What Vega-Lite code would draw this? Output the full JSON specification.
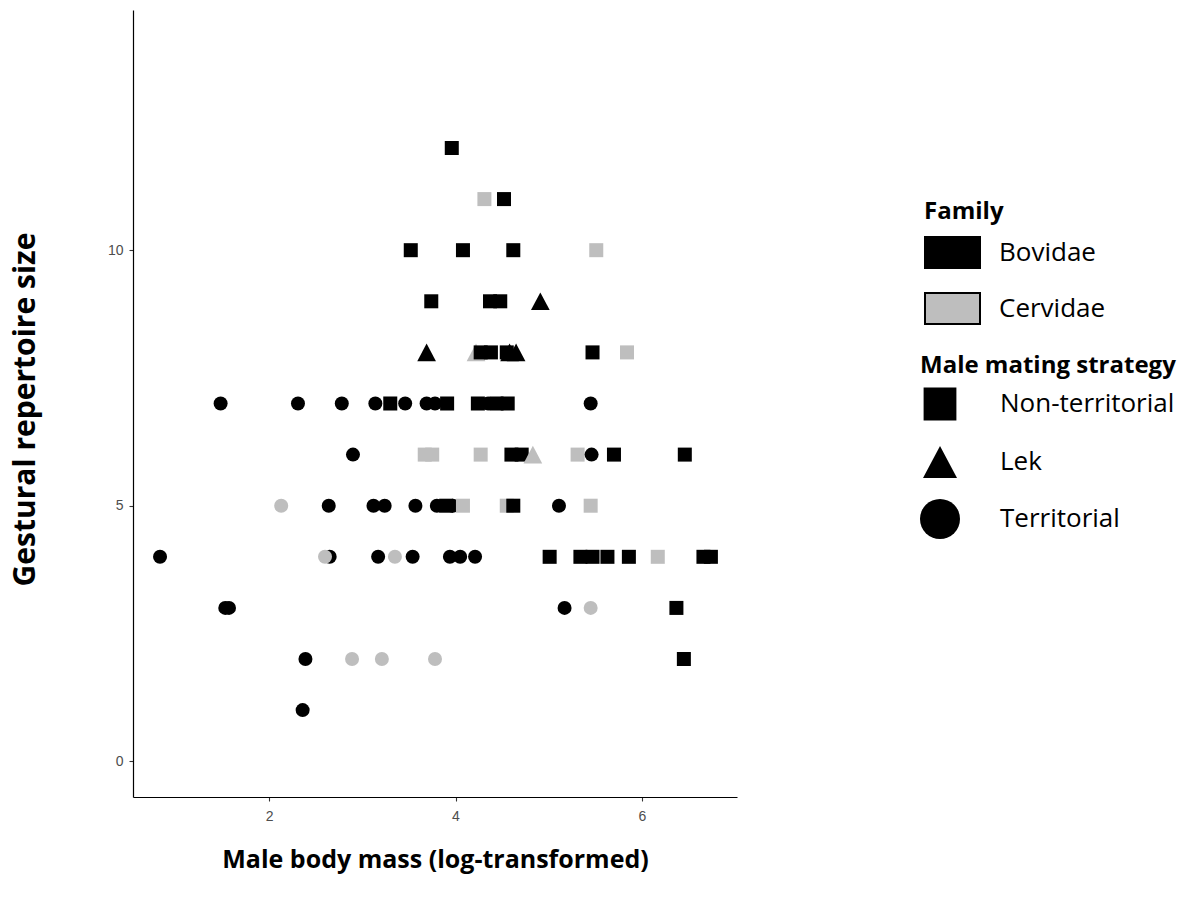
{
  "$schema": "https://vega.github.io/schema/vega-lite/v6.json",
  "autosize": {"type": "none"},
  "padding": {"left": 133, "top": 10, "right": 461, "bottom": 106},
  "width": 604,
  "height": 787,
  "background": "white",
  "config": {
    "view": {"stroke": null},
    "axis": {
      "grid": false,
      "domainColor": "#000000",
      "domainWidth": 1.2,
      "tickColor": "#333333",
      "tickSize": 4,
      "tickWidth": 1.1,
      "labelFont": "Liberation Sans",
      "labelFontSize": 14,
      "labelColor": "#4d4d4d",
      "titleFont": "Open Sans",
      "titleFontWeight": "bold",
      "titleColor": "#000000"
    },
    "legend": {
      "titleFont": "Open Sans",
      "titleFontSize": 24,
      "titleFontWeight": "bold",
      "titleColor": "#000000",
      "titleLimit": 500,
      "labelLimit": 500,
      "labelFont": "Open Sans",
      "labelFontSize": 26,
      "labelColor": "#000000",
      "padding": 0
    }
  },
  "data": {
    "values": [
      {"mass": 3.96, "gestures": 12, "family": "Bovidae", "strategy": "Non-territorial"},
      {"mass": 4.31, "gestures": 11, "family": "Cervidae", "strategy": "Non-territorial"},
      {"mass": 4.52, "gestures": 11, "family": "Bovidae", "strategy": "Non-territorial"},
      {"mass": 3.52, "gestures": 10, "family": "Bovidae", "strategy": "Non-territorial"},
      {"mass": 4.08, "gestures": 10, "family": "Bovidae", "strategy": "Non-territorial"},
      {"mass": 4.62, "gestures": 10, "family": "Bovidae", "strategy": "Non-territorial"},
      {"mass": 5.51, "gestures": 10, "family": "Cervidae", "strategy": "Non-territorial"},
      {"mass": 3.74, "gestures": 9, "family": "Bovidae", "strategy": "Non-territorial"},
      {"mass": 4.37, "gestures": 9, "family": "Bovidae", "strategy": "Non-territorial"},
      {"mass": 4.48, "gestures": 9, "family": "Bovidae", "strategy": "Non-territorial"},
      {"mass": 4.91, "gestures": 9, "family": "Bovidae", "strategy": "Lek"},
      {"mass": 3.69, "gestures": 8, "family": "Bovidae", "strategy": "Lek"},
      {"mass": 4.22, "gestures": 8, "family": "Cervidae", "strategy": "Lek"},
      {"mass": 4.27, "gestures": 8, "family": "Bovidae", "strategy": "Non-territorial"},
      {"mass": 4.38, "gestures": 8, "family": "Bovidae", "strategy": "Non-territorial"},
      {"mass": 4.55, "gestures": 8, "family": "Bovidae", "strategy": "Non-territorial"},
      {"mass": 4.58, "gestures": 8, "family": "Bovidae", "strategy": "Lek"},
      {"mass": 4.65, "gestures": 8, "family": "Bovidae", "strategy": "Lek"},
      {"mass": 5.47, "gestures": 8, "family": "Bovidae", "strategy": "Non-territorial"},
      {"mass": 5.84, "gestures": 8, "family": "Cervidae", "strategy": "Non-territorial"},
      {"mass": 1.48, "gestures": 7, "family": "Bovidae", "strategy": "Territorial"},
      {"mass": 2.31, "gestures": 7, "family": "Bovidae", "strategy": "Territorial"},
      {"mass": 2.78, "gestures": 7, "family": "Bovidae", "strategy": "Territorial"},
      {"mass": 3.14, "gestures": 7, "family": "Bovidae", "strategy": "Territorial"},
      {"mass": 3.30, "gestures": 7, "family": "Bovidae", "strategy": "Non-territorial"},
      {"mass": 3.46, "gestures": 7, "family": "Bovidae", "strategy": "Territorial"},
      {"mass": 3.69, "gestures": 7, "family": "Bovidae", "strategy": "Territorial"},
      {"mass": 3.78, "gestures": 7, "family": "Bovidae", "strategy": "Territorial"},
      {"mass": 3.91, "gestures": 7, "family": "Bovidae", "strategy": "Non-territorial"},
      {"mass": 4.24, "gestures": 7, "family": "Bovidae", "strategy": "Non-territorial"},
      {"mass": 4.35, "gestures": 7, "family": "Bovidae", "strategy": "Territorial"},
      {"mass": 4.44, "gestures": 7, "family": "Bovidae", "strategy": "Non-territorial"},
      {"mass": 4.56, "gestures": 7, "family": "Bovidae", "strategy": "Non-territorial"},
      {"mass": 5.45, "gestures": 7, "family": "Bovidae", "strategy": "Territorial"},
      {"mass": 2.90, "gestures": 6, "family": "Bovidae", "strategy": "Territorial"},
      {"mass": 3.67, "gestures": 6, "family": "Cervidae", "strategy": "Non-territorial"},
      {"mass": 3.75, "gestures": 6, "family": "Cervidae", "strategy": "Non-territorial"},
      {"mass": 4.27, "gestures": 6, "family": "Cervidae", "strategy": "Non-territorial"},
      {"mass": 4.60, "gestures": 6, "family": "Bovidae", "strategy": "Non-territorial"},
      {"mass": 4.71, "gestures": 6, "family": "Bovidae", "strategy": "Non-territorial"},
      {"mass": 4.83, "gestures": 6, "family": "Cervidae", "strategy": "Lek"},
      {"mass": 5.31, "gestures": 6, "family": "Cervidae", "strategy": "Non-territorial"},
      {"mass": 5.46, "gestures": 6, "family": "Bovidae", "strategy": "Territorial"},
      {"mass": 5.70, "gestures": 6, "family": "Bovidae", "strategy": "Non-territorial"},
      {"mass": 6.46, "gestures": 6, "family": "Bovidae", "strategy": "Non-territorial"},
      {"mass": 2.13, "gestures": 5, "family": "Cervidae", "strategy": "Territorial"},
      {"mass": 2.64, "gestures": 5, "family": "Bovidae", "strategy": "Territorial"},
      {"mass": 3.12, "gestures": 5, "family": "Bovidae", "strategy": "Territorial"},
      {"mass": 3.24, "gestures": 5, "family": "Bovidae", "strategy": "Territorial"},
      {"mass": 3.57, "gestures": 5, "family": "Bovidae", "strategy": "Territorial"},
      {"mass": 3.80, "gestures": 5, "family": "Bovidae", "strategy": "Territorial"},
      {"mass": 3.90, "gestures": 5, "family": "Bovidae", "strategy": "Non-territorial"},
      {"mass": 3.97, "gestures": 5, "family": "Bovidae", "strategy": "Territorial"},
      {"mass": 4.08, "gestures": 5, "family": "Cervidae", "strategy": "Non-territorial"},
      {"mass": 4.55, "gestures": 5, "family": "Cervidae", "strategy": "Non-territorial"},
      {"mass": 4.62, "gestures": 5, "family": "Bovidae", "strategy": "Non-territorial"},
      {"mass": 5.11, "gestures": 5, "family": "Bovidae", "strategy": "Territorial"},
      {"mass": 5.45, "gestures": 5, "family": "Cervidae", "strategy": "Non-territorial"},
      {"mass": 0.83, "gestures": 4, "family": "Bovidae", "strategy": "Territorial"},
      {"mass": 2.65, "gestures": 4, "family": "Bovidae", "strategy": "Territorial"},
      {"mass": 2.60, "gestures": 4, "family": "Cervidae", "strategy": "Territorial"},
      {"mass": 3.17, "gestures": 4, "family": "Bovidae", "strategy": "Territorial"},
      {"mass": 3.35, "gestures": 4, "family": "Cervidae", "strategy": "Territorial"},
      {"mass": 3.54, "gestures": 4, "family": "Bovidae", "strategy": "Territorial"},
      {"mass": 3.94, "gestures": 4, "family": "Bovidae", "strategy": "Territorial"},
      {"mass": 4.05, "gestures": 4, "family": "Bovidae", "strategy": "Territorial"},
      {"mass": 4.21, "gestures": 4, "family": "Bovidae", "strategy": "Territorial"},
      {"mass": 5.01, "gestures": 4, "family": "Bovidae", "strategy": "Non-territorial"},
      {"mass": 5.34, "gestures": 4, "family": "Bovidae", "strategy": "Non-territorial"},
      {"mass": 5.47, "gestures": 4, "family": "Bovidae", "strategy": "Non-territorial"},
      {"mass": 5.63, "gestures": 4, "family": "Bovidae", "strategy": "Non-territorial"},
      {"mass": 5.86, "gestures": 4, "family": "Bovidae", "strategy": "Non-territorial"},
      {"mass": 6.17, "gestures": 4, "family": "Cervidae", "strategy": "Non-territorial"},
      {"mass": 6.66, "gestures": 4, "family": "Bovidae", "strategy": "Non-territorial"},
      {"mass": 6.74, "gestures": 4, "family": "Bovidae", "strategy": "Non-territorial"},
      {"mass": 1.53, "gestures": 3, "family": "Bovidae", "strategy": "Territorial"},
      {"mass": 1.57, "gestures": 3, "family": "Bovidae", "strategy": "Territorial"},
      {"mass": 5.17, "gestures": 3, "family": "Bovidae", "strategy": "Territorial"},
      {"mass": 5.45, "gestures": 3, "family": "Cervidae", "strategy": "Territorial"},
      {"mass": 6.37, "gestures": 3, "family": "Bovidae", "strategy": "Non-territorial"},
      {"mass": 2.39, "gestures": 2, "family": "Bovidae", "strategy": "Territorial"},
      {"mass": 2.89, "gestures": 2, "family": "Cervidae", "strategy": "Territorial"},
      {"mass": 3.21, "gestures": 2, "family": "Cervidae", "strategy": "Territorial"},
      {"mass": 3.78, "gestures": 2, "family": "Cervidae", "strategy": "Territorial"},
      {"mass": 6.45, "gestures": 2, "family": "Bovidae", "strategy": "Non-territorial"},
      {"mass": 2.36, "gestures": 1, "family": "Bovidae", "strategy": "Territorial"}
    ]
  },
  "mark": {"type": "point", "filled": true, "opacity": 1, "strokeWidth": 0},
  "encoding": {
    "x": {
      "field": "mass", "type": "quantitative",
      "scale": {"domain": [0.54, 7.02], "nice": false, "zero": false},
      "axis": {"values": [2, 4, 6], "title": "Male body mass (log-transformed)", "titleFontSize": 25, "titleX": 302, "titleY": 62, "titleBaseline": "middle", "labelPadding": 8}
    },
    "y": {
      "field": "gestures", "type": "quantitative",
      "scale": {"domain": [-0.7, 14.7], "nice": false, "zero": false},
      "axis": {"values": [0, 5, 10], "title": "Gestural repertoire size", "titleFontSize": 30, "titleX": -108, "titleY": 399, "titleBaseline": "middle", "titleAngle": -90, "labelPadding": 6}
    },
    "color": {
      "field": "family", "type": "nominal",
      "scale": {"domain": ["Bovidae", "Cervidae"], "range": ["#000000", "#bebebe"]},
      "legend": {
        "title": "Family",
        "orient": "none",
        "legendX": 791,
        "legendY": 190,
        "symbolType": "M-1,-0.56H1V0.56H-1Z",
        "symbolSize": 3025,
        "symbolStrokeColor": "#000000",
        "symbolStrokeWidth": 2,
        "symbolOpacity": 1,
        "labelOffset": 18,
        "rowPadding": 8,
        "titlePadding": 0
      }
    },
    "shape": {
      "field": "strategy", "type": "nominal",
      "scale": {
        "domain": ["Non-territorial", "Lek", "Territorial"],
        "range": ["M-0.82,-0.82H0.82V0.82H-0.82Z", "M0,-0.8L0.85,0.8L-0.85,0.8Z", "circle"]
      },
      "legend": {
        "title": "Male mating strategy",
        "orient": "none",
        "legendX": 787,
        "legendY": 344,
        "symbolSize": 1600,
        "symbolFillColor": "#000000",
        "symbolStrokeWidth": 0,
        "symbolOpacity": 1,
        "labelOffset": 40,
        "rowPadding": 21,
        "titlePadding": 6
      }
    },
    "size": {
      "condition": [
        {"test": "datum.strategy === 'Lek'", "value": 484},
        {"test": "datum.strategy === 'Territorial'", "value": 196}
      ],
      "value": 292
    }
  }
}
